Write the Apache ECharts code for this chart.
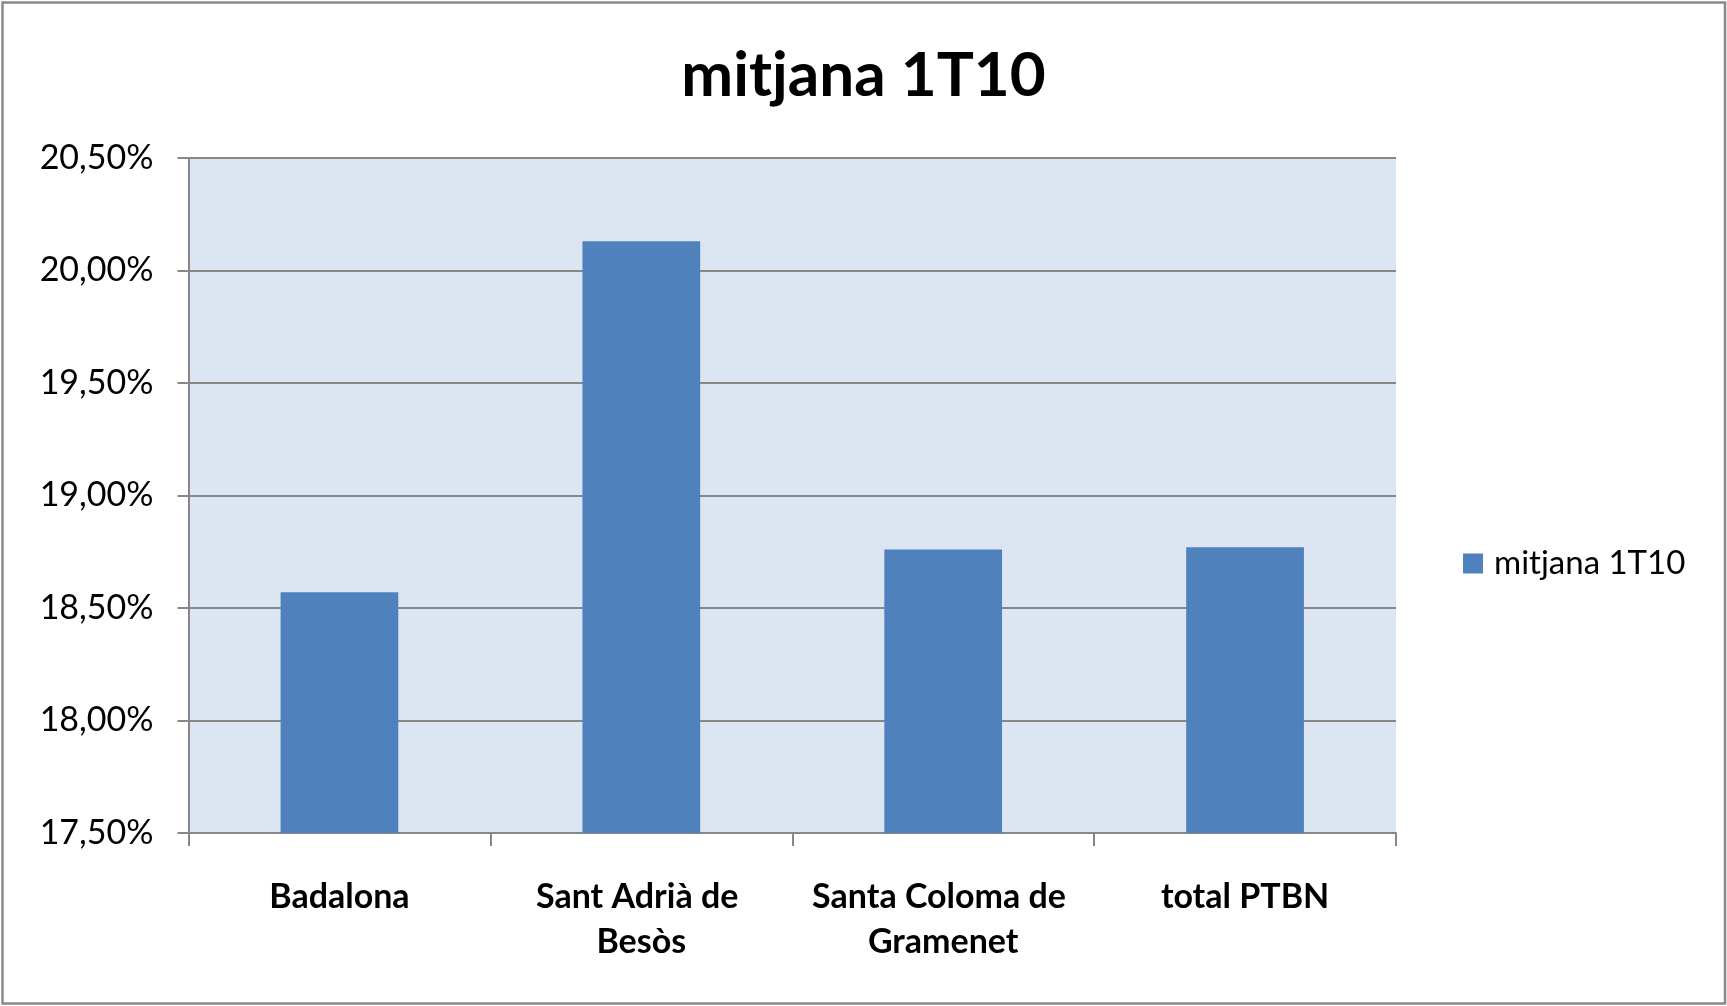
<!DOCTYPE html>
<html>
<head>
<meta charset="utf-8">
<script src="https://cdn.jsdelivr.net/npm/echarts@6/dist/echarts.min.js"></script>
<style>
  html, body { margin: 0; padding: 0; background: #fff; }
  #chart { width: 1727px; height: 1006px; }
</style>
</head>
<body>
<div id="chart"></div>
<script>
// data
var categories = ['Badalona', 'Sant Adrià de Besòs', 'Santa Coloma de Gramenet', 'total PTBN'];
var seriesName = 'mitjana 1T10';
var values = [18.57, 20.13, 18.76, 18.77];
var yTicks = [17.5, 18, 18.5, 19, 19.5, 20, 20.5];

var chart = echarts.init(document.getElementById('chart'));
var option = {
  backgroundColor: '#fff',
  animation: false,
  title: {
    text: seriesName,
    left: 'center',
    top: 40,
    textStyle: { fontFamily: 'Lato', fontWeight: 'bold', fontSize: 62, color: '#000' }
  },
  legend: {
    data: [seriesName],
    left: 1458,
    top: 542,
    icon: 'rect',
    itemWidth: 20,
    itemHeight: 20,
    textStyle: { fontFamily: 'Lato', fontSize: 33, color: '#000', padding: [0, 0, 0, 6] }
  },
  grid: {
    left: 188.5,
    right: 331,
    top: 158,
    bottom: 173,
    show: true,
    backgroundColor: '#DCE6F2',
    borderWidth: 0
  },
  xAxis: {
    type: 'category',
    data: categories,
    axisLine: { lineStyle: { color: '#878787', width: 2 } },
    axisTick: { show: true, interval: 0, length: 13, lineStyle: { color: '#878787', width: 2 } },
    axisLabel: {
      interval: 0,
      hideOverlap: false,
      margin: 42,
      width: 280,
      overflow: 'break',
      lineHeight: 45,
      fontFamily: 'Lato',
      fontWeight: 'bold',
      fontSize: 34,
      color: '#000'
    }
  },
  yAxis: {
    type: 'value',
    min: yTicks[0],
    max: yTicks[yTicks.length - 1],
    interval: 0.5,
    axisLine: { show: true, lineStyle: { color: '#878787', width: 2 } },
    axisTick: { show: true, length: 11, lineStyle: { color: '#878787', width: 2 } },
    splitLine: { lineStyle: { color: '#878787', width: 2 } },
    axisLabel: {
      margin: 35,
      fontFamily: 'Lato',
      fontSize: 34,
      color: '#000',
      padding: [8, 0, 0, 0],
      formatter: function (v) { return v.toFixed(2).replace('.', ',') + '%'; }
    }
  },
  series: [{
    name: seriesName,
    type: 'bar',
    data: values,
    barWidth: '39%',
    itemStyle: { color: '#4F81BD' }
  }],
  graphic: [{
    type: 'rect',
    shape: { x: 2.5, y: 2.5, width: 1722.5, height: 1001 },
    style: { fill: null, stroke: '#898989', lineWidth: 2.5 },
    silent: true
  }]
};
chart.setOption(option);
</script>
</body>
</html>
